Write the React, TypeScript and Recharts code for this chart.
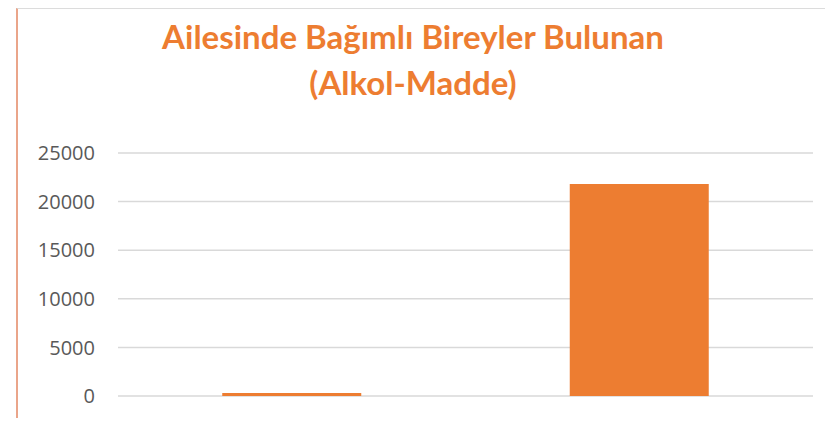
import { Bar, BarChart, CartesianGrid, XAxis, YAxis } from 'recharts';

const categories = ['Evet', 'Hayır'];
const counts = [320, 21800];
const yTicks = [0, 5000, 10000, 15000, 20000, 25000];

const data = categories.map((name, i) => ({ name, count: counts[i] }));

const ORANGE = '#ED7D31';

export default function App() {
  return (
    <div style={{ position: 'relative', width: 833, height: 426, margin: -8, background: '#fff' }}>
      {/* frame: only left, top and bottom edges show in the crop */}
      <div
        style={{
          position: 'absolute',
          left: 16,
          top: 8,
          width: 830,
          height: 416,
          borderLeft: '2px solid #eaa58a',
          borderTop: '1px solid #dcdcdc',
          borderBottom: '1px solid #dcdcdc',
        }}
      />
      <div
        style={{
          position: 'absolute',
          left: 0,
          top: 13,
          width: 826,
          textAlign: 'center',
          color: ORANGE,
          fontFamily: 'Lato, sans-serif',
          fontWeight: 700,
          fontSize: 33,
          lineHeight: '46px',
        }}
      >
        Ailesinde Bağımlı Bireyler Bulunan
        <br />
        (Alkol-Madde)
      </div>
      <div style={{ position: 'absolute', left: 0, top: 0 }}>
        <BarChart
          width={833}
          height={426}
          data={data}
          margin={{ top: 153, right: 20, bottom: 30, left: 0 }}
          barCategoryGap="30%"
        >
          <CartesianGrid horizontal vertical={false} stroke="#d9d9d9" strokeWidth={1.5} />
          <XAxis dataKey="name" hide />
          <YAxis
            domain={[0, 25000]}
            ticks={yTicks}
            axisLine={false}
            tickLine={false}
            width={118}
            tickMargin={17}
            tick={{ fill: '#595959', fontSize: 20, fontFamily: 'Open Sans, sans-serif' }}
          />
          <Bar dataKey="count" fill={ORANGE} isAnimationActive={false} />
        </BarChart>
      </div>
    </div>
  );
}
